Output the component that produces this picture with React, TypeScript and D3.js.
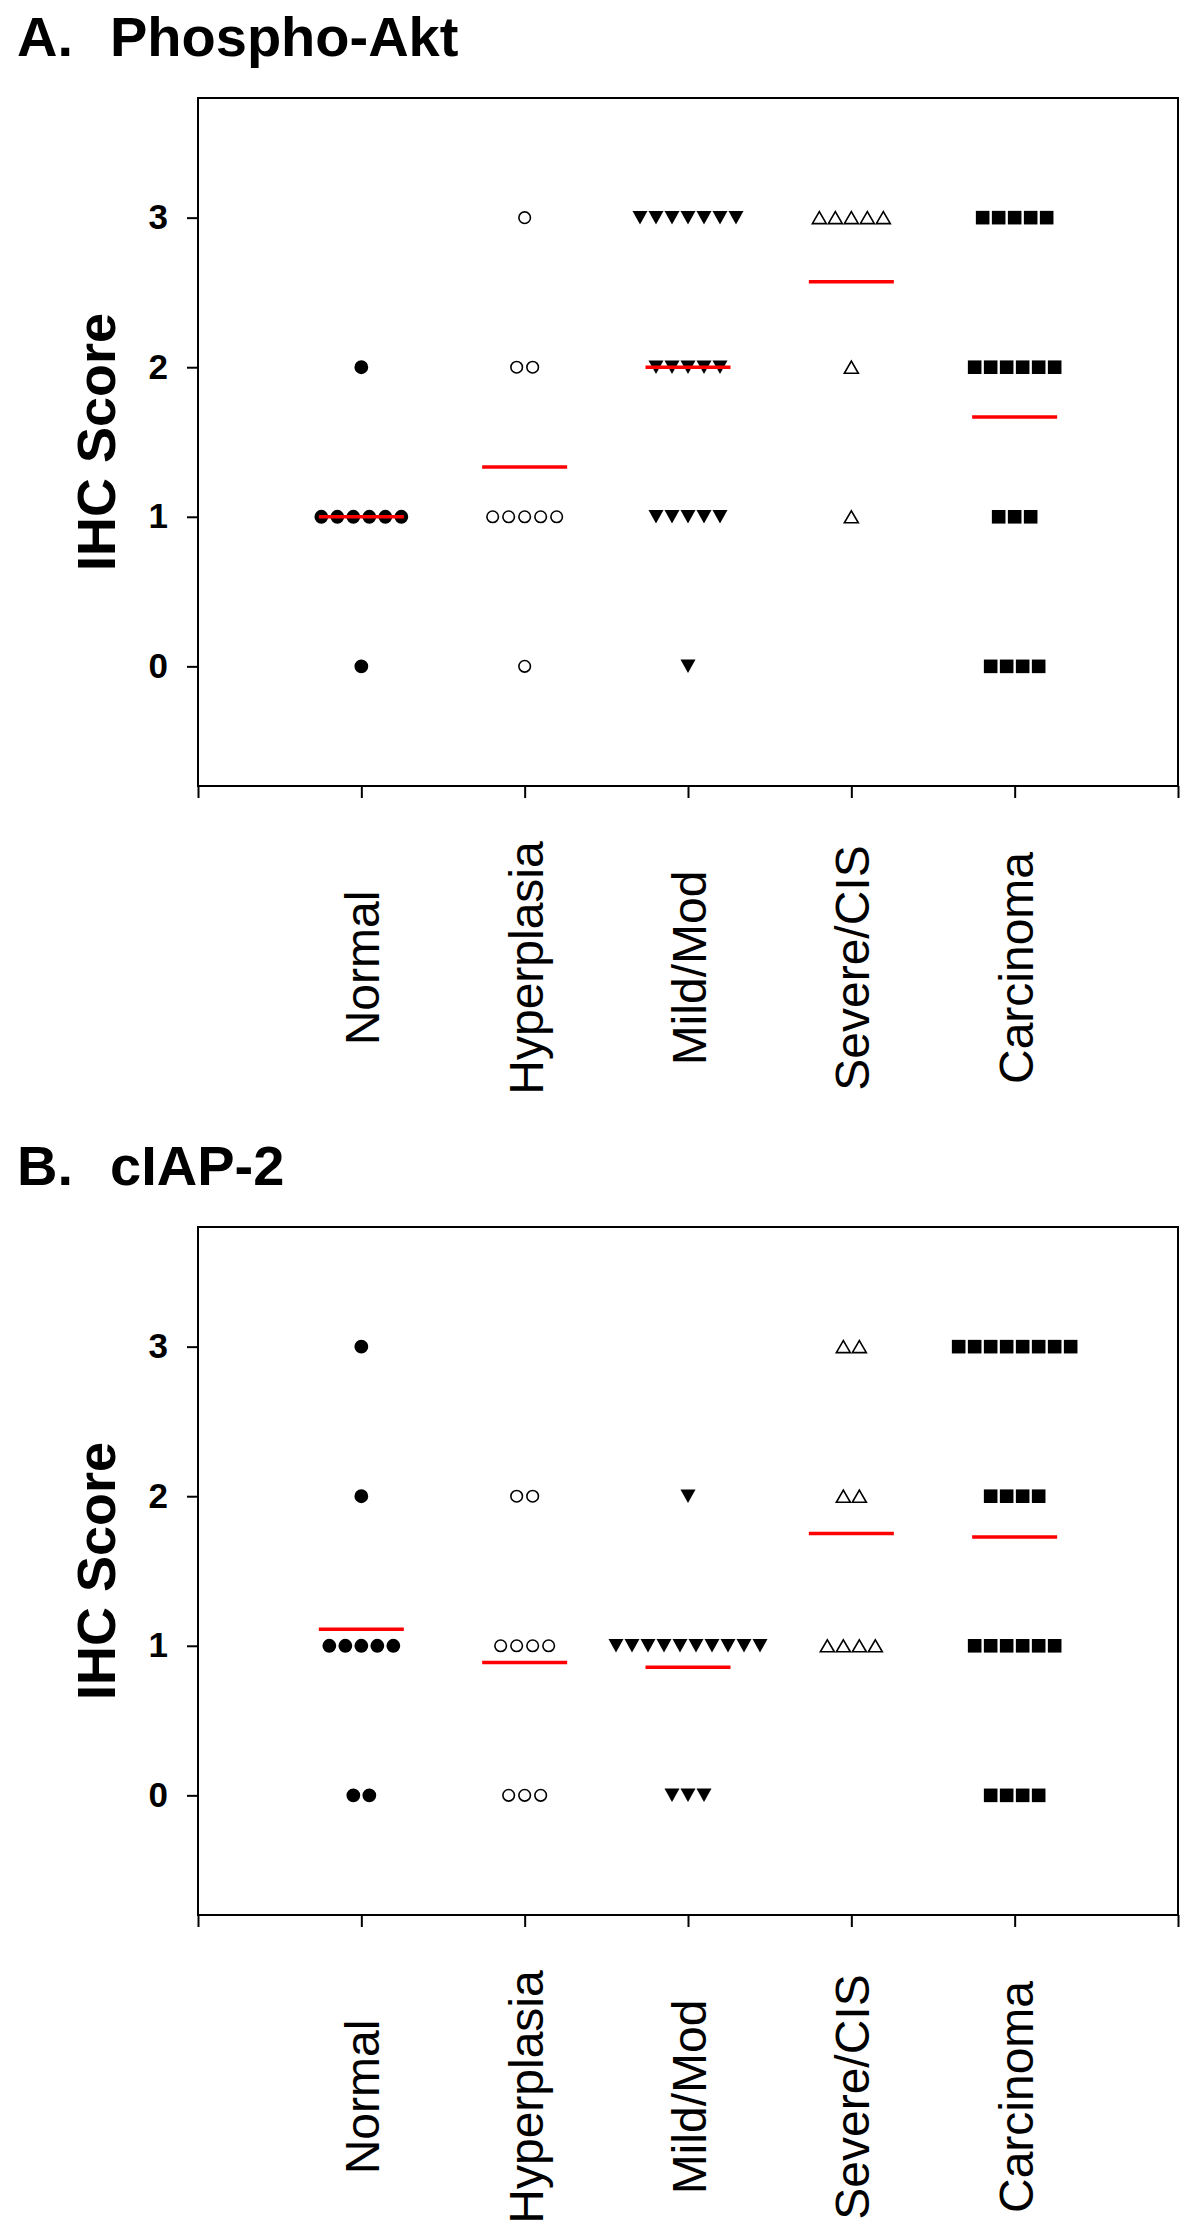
import * as d3 from "d3";
import { useEffect, useRef } from "react";

const categories = ["Normal", "Hyperplasia", "Mild/Mod", "Severe/CIS", "Carcinoma"];
const scoreTicks = [0, 1, 2, 3];
const xTicks = [0, 1, 2, 3, 4, 5, 6];

// number of samples scored 0, 1, 2, 3 in each category
const aktCounts = [
    [1, 6, 1, 0],
    [1, 5, 2, 1],
    [1, 5, 5, 7],
    [0, 1, 1, 5],
    [4, 3, 6, 5],
];
const ciapCounts = [
    [2, 5, 1, 1],
    [3, 4, 2, 0],
    [3, 10, 1, 0],
    [0, 4, 2, 2],
    [4, 6, 4, 8],
];

const panels = [
    { letter: "A.", name: "Phospho-Akt", counts: aktCounts },
    { letter: "B.", name: "cIAP-2", counts: ciapCounts },
];

const FONT = "Arial, 'Liberation Sans', sans-serif";

// triangles centred on their bounding box
const triangleDown = {
    draw(ctx, size) {
        const w = Math.sqrt(size) / 2;
        const h = w * 0.9;
        ctx.moveTo(-w, -h);
        ctx.lineTo(w, -h);
        ctx.lineTo(0, h);
        ctx.closePath();
    }
};
const triangleUp = {
    draw(ctx, size) {
        const w = Math.sqrt(size) / 2;
        const h = w * 0.86;
        ctx.moveTo(-w, h);
        ctx.lineTo(w, h);
        ctx.lineTo(0, -h);
        ctx.closePath();
    }
};

const markers = [
    { type: d3.symbolCircle, size: 150, fill: "#000", stroke: "none" },
    { type: d3.symbolCircle, size: 105, fill: "#fff", stroke: "#000" },
    { type: triangleDown, size: 225, fill: "#000", stroke: "none" },
    { type: triangleUp, size: 196, fill: "#fff", stroke: "#000" },
    { type: d3.symbolSquare, size: 185, fill: "#000", stroke: "none" },
];

const App = () => {
    const ref = useRef(null);

    useEffect(() => {
        const svg = d3.select(ref.current);
        svg.selectAll("*").remove();

        const x = d3.scaleLinear().domain([0, 6]).range([198, 1178]);
        const y = d3.scaleLinear().domain([-0.8, 3.8]).range([786, 98]);
        const spread = 16;
        const panelStep = 1129;

        panels.forEach((p, pi) => {
            const g = svg.append("g")
                .attr("transform", `translate(0, ${pi * panelStep})`);

            const title = g.append("text")
                .attr("y", 56)
                .attr("font-family", FONT)
                .attr("font-weight", "bold")
                .attr("font-size", 56);
            title.append("tspan").attr("x", 17).text(p.letter);
            title.append("tspan").attr("x", 110).text(p.name);

            // box
            g.append("rect")
                .attr("x", x(0))
                .attr("y", y(3.8))
                .attr("width", x(6) - x(0))
                .attr("height", y(-0.8) - y(3.8))
                .attr("fill", "none")
                .attr("stroke", "#000")
                .attr("stroke-width", 2);

            const yAxis = g.append("g")
                .attr("transform", `translate(${x(0)}, 0)`)
                .call(d3.axisLeft(y).tickValues(scoreTicks).tickSize(11).tickPadding(19).tickFormat(d3.format("d")))
                .attr("font-family", FONT)
                .attr("font-size", 35)
                .attr("font-weight", "bold");
            yAxis.select(".domain").remove();
            yAxis.selectAll("line").attr("stroke-width", 2);
            yAxis.selectAll("text").attr("fill", "#000");

            const xAxis = g.append("g")
                .attr("transform", `translate(0, ${y(-0.8)})`)
                .call(d3.axisBottom(x).tickValues(xTicks).tickSize(12).tickFormat(() => ""));
            xAxis.select(".domain").remove();
            xAxis.selectAll("line").attr("stroke-width", 2);

            g.append("text")
                .attr("transform", `translate(115, ${y(1.5)}) rotate(-90)`)
                .attr("text-anchor", "middle")
                .attr("font-family", FONT)
                .attr("font-weight", "bold")
                .attr("font-size", 54)
                .text("IHC Score");

            g.selectAll(".cat")
                .data(categories)
                .enter()
                .append("text")
                .attr("transform", (d, i) => `translate(${x(i + 1) + 18}, 968) rotate(-90)`)
                .attr("text-anchor", "middle")
                .attr("font-family", FONT)
                .attr("font-size", 48)
                .text(d => d);

            // points
            p.counts.forEach((row, ci) => {
                const m = markers[ci];
                const pts = [];
                row.forEach((n, s) => {
                    for (let j = 0; j < n; j++) {
                        pts.push({ cx: x(ci + 1) + (j - (n - 1) / 2) * spread, cy: y(scoreTicks[s]) });
                    }
                });
                g.append("g")
                    .selectAll("path")
                    .data(pts)
                    .enter()
                    .append("path")
                    .attr("transform", d => `translate(${d.cx}, ${d.cy})`)
                    .attr("d", d3.symbol().type(m.type).size(m.size)())
                    .attr("fill", m.fill)
                    .attr("stroke", m.stroke)
                    .attr("stroke-width", 1.6);
            });

            // mean lines
            p.counts.forEach((row, ci) => {
                const total = d3.sum(row);
                const mean = d3.sum(row.map((n, s) => n * scoreTicks[s])) / total;
                g.append("line")
                    .attr("x1", x(ci + 1) - 42.5)
                    .attr("x2", x(ci + 1) + 42.5)
                    .attr("y1", y(mean))
                    .attr("y2", y(mean))
                    .attr("stroke", "#ff0000")
                    .attr("stroke-width", 3.5);
            });
        });
    }, []);

    return (
        <svg
            ref={ref}
            width={1200}
            height={2238}
            style={{ position: "absolute", left: 0, top: 0, background: "#fff" }}
        />
    );
};

export default App;
